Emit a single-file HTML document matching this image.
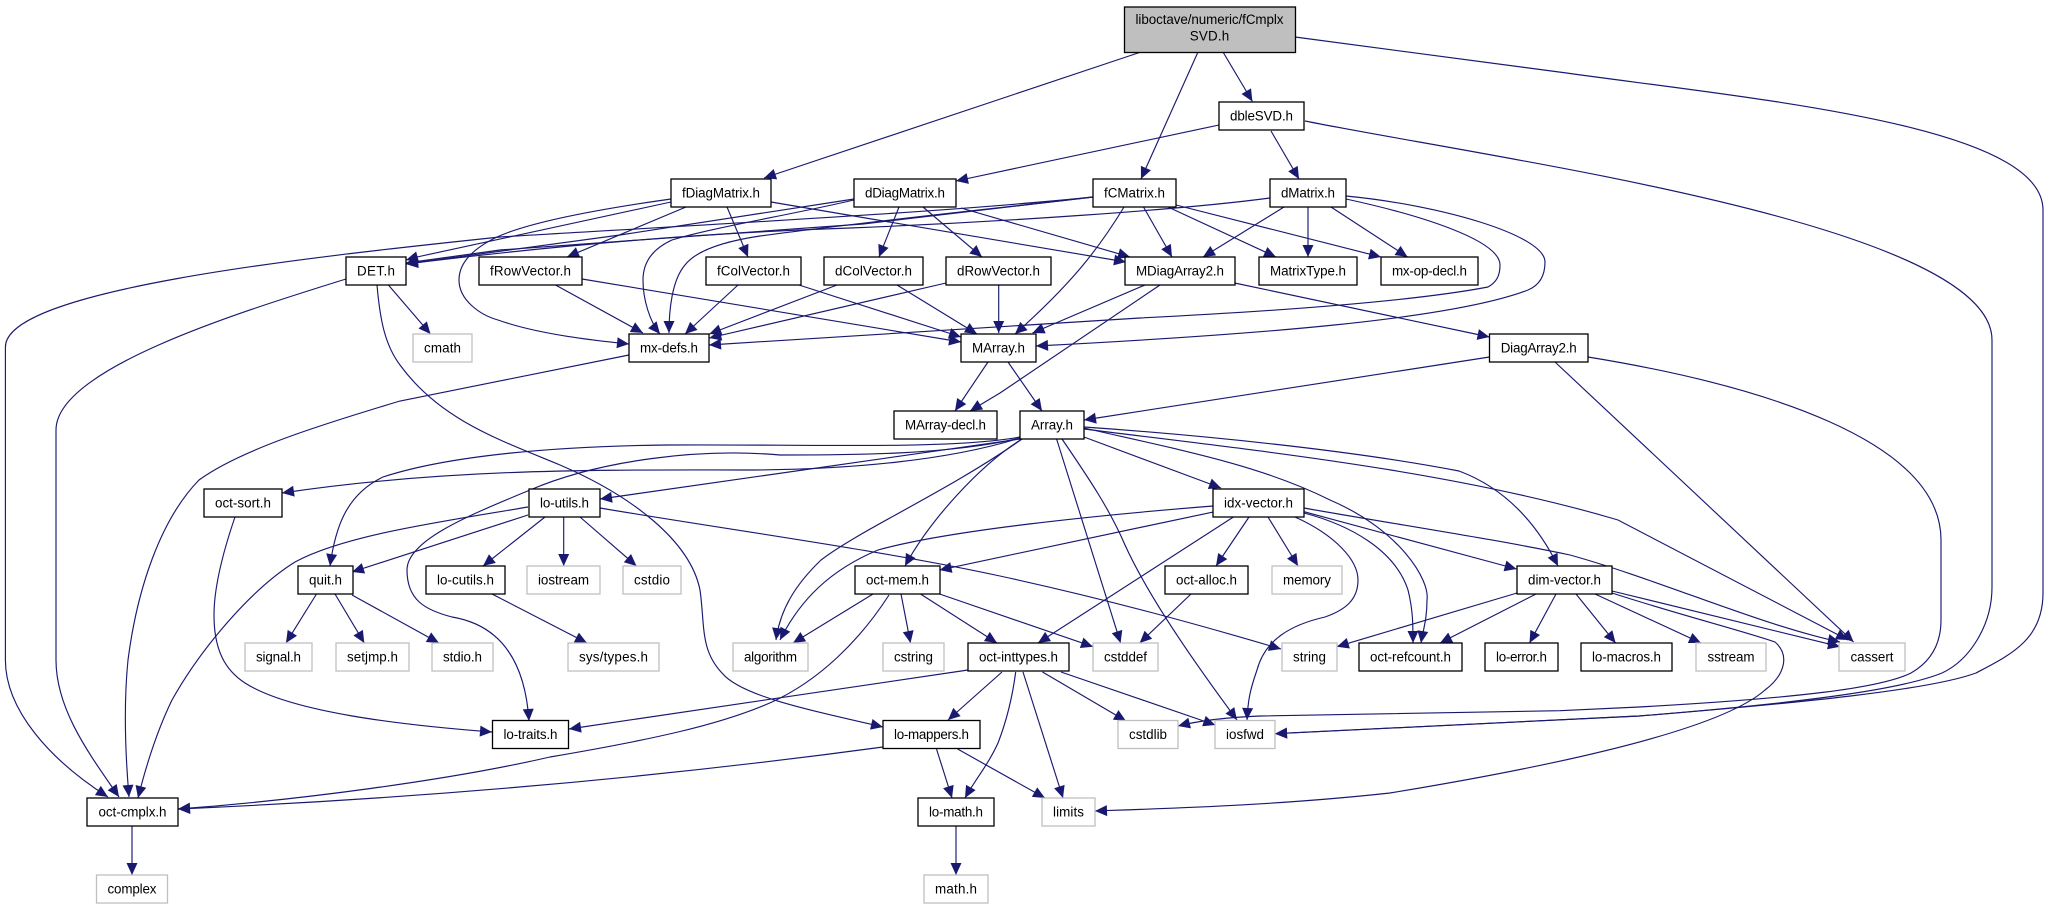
<!DOCTYPE html>
<html><head><meta charset="utf-8"><title>fCmplxSVD.h include graph</title>
<style>
html,body{margin:0;padding:0;background:#fff;width:2048px;height:909px;overflow:hidden}
svg{display:block}
text{font-family:"Liberation Sans",sans-serif;font-size:13.4px;fill:#000;text-anchor:middle}
rect{fill:#fff;stroke:#000;stroke-width:1.3}
rect.g{stroke:#bfbfbf}
rect.r{fill:#bfbfbf}
#e path{fill:none;stroke:#191970;stroke-width:1.15}
</style></head><body>
<svg xmlns="http://www.w3.org/2000/svg" width="2048" height="909" viewBox="0 0 2048 909">
<defs><marker id="a" markerUnits="userSpaceOnUse" markerWidth="14" markerHeight="13" refX="12" refY="5.5" orient="auto" overflow="visible"><polygon points="0,0 12,5.5 0,11" fill="#191970"/></marker></defs>
<g id="e" marker-end="url(#a)">
<!-- root -->
<path d="M1141,52L764,178"/>
<path d="M1198,52L1141,179"/>
<path d="M1223,52L1252.4,101.5"/>
<path d="M1295,37L1559,72C1760,100 2043,125 2043,210L2043,593C2043,640 2010,655 1976,673C1930,690 1800,703 1639,716L1275,733.7"/>
<!-- dbleSVD -->
<path d="M1219,125L956,181"/>
<path d="M1271,131L1299,179"/>
<path d="M1305,121C1500,160 1992,225 1992,340L1992,587C1992,625 1970,660 1942,673C1900,690 1800,703 1639,716L1275,733.7"/>
<!-- fDiagMatrix -->
<path d="M671,199C600,209 530,222 497,237C470,250 459,265 459,280C459,300 480,315 498,320C540,335 600,341 629,344"/>
<path d="M671,202L417,257L406,260"/>
<path d="M686,207L567,257"/>
<path d="M727,207L748,257"/>
<path d="M771,202L1126,262"/>
<!-- dDiagMatrix -->
<path d="M854,199L620,235L406,264"/>
<path d="M854,200C790,215 710,228 672,240C650,250 643,265 643,280C643,300 650,322 660,334"/>
<path d="M899,207L879,257"/>
<path d="M923,207L982,257"/>
<path d="M961,208L1130,257"/>
<!-- fCMatrix -->
<path d="M1093,197C950,212 700,225 500,237C300,258 5.4,290 5.4,347L5.4,660C5.4,710 50,760 108,797"/>
<path d="M1093,197L863,224L500,250L406,263"/>
<path d="M1093,197C1020,206 880,220 760,236C720,242 695,252 685,265C672,280 669,310 669,333"/>
<path d="M1124,207C1098,250 1070,285 1015,334"/>
<path d="M1143.5,207L1172,257"/>
<path d="M1168,207L1276,257"/>
<path d="M1176,205L1381,257"/>
<!-- dMatrix -->
<path d="M1270,198C1180,210 1000,222 850,228C700,233 560,245 406,264"/>
<path d="M1284,207L1203,257"/>
<path d="M1308,207L1308,257"/>
<path d="M1331,207L1407.6,257"/>
<path d="M1346,199C1420,215 1500,240 1500,265C1500,275 1497,282 1488,287C1420,300 1300,310 1140,318C1000,328 850,335 709,345"/>
<path d="M1346,196C1440,205 1545,235 1545,262C1545,275 1540,285 1528,290C1450,320 1250,335 1036,346"/>
<!-- DET -->
<path d="M346,279C230,315 56,370 56,430L56,660C56,710 90,755 119,797"/>
<path d="M388.4,285L430.5,334"/>
<path d="M377,285C380,320 385,345 400,365C440,420 500,440 560,465C630,495 690,540 700,590C705,625 700,650 722,673C740,695 800,708 883,727"/>
<!-- vectors -->
<path d="M555.5,285L643,333"/>
<path d="M582,279L961,342"/>
<path d="M738,285L685,334"/>
<path d="M799,285L961,337"/>
<path d="M837,285L709.3,334"/>
<path d="M897,285L977,334"/>
<path d="M946,283L709.3,338"/>
<path d="M998.7,285L998.7,333"/>
<!-- MDiagArray2 / DiagArray2 -->
<path d="M1145,285L1032.5,333"/>
<path d="M1160,285L1000,393L970,411"/>
<path d="M1234.6,283L1489.5,337"/>
<path d="M1489.5,357L1084,420"/>
<path d="M1555,362L1853.6,642"/>
<path d="M1588,357C1760,385 1941,440 1941,540L1941,620C1941,650 1925,665 1911,673C1880,688 1800,698 1639,707L1560,710.7L1260,716Q1210,718 1178,726"/>
<!-- mx-defs -->
<path d="M629,355L400,401C320,425 240,450 199,480C160,520 137,590 128,660C124,700 125,750 129,797"/>
<!-- MArray -->
<path d="M988,362L955,411"/>
<path d="M1008,362L1042,411"/>
<!-- Array -->
<path d="M1020,437C950,450 800,444 668,445C560,446 450,455 383,477C345,495 335,530 330,566"/>
<path d="M1020,438C950,460 850,470 744,470C600,470 450,468 282,493"/>
<path d="M1020,438C950,455 850,455 780,455C700,448 600,460 530,490C470,515 407,540 407,570C407,600 425,610 452,617C500,625 525,660 529,721"/>
<path d="M1020,439L600,499"/>
<path d="M1022,439C950,490 860,530 821,560C795,585 780,610 776,640"/>
<path d="M1022,439C980,465 930,520 905,566"/>
<path d="M1056.6,439L1120.6,643"/>
<path d="M1062,439C1090,480 1110,510 1125,545C1150,600 1200,670 1237,720"/>
<path d="M1084,437L1221,488"/>
<path d="M1084,428C1180,450 1260,465 1330,500C1400,530 1430,580 1427,600C1427,620 1423,630 1421,643"/>
<path d="M1084,427C1200,435 1350,450 1459,471C1510,490 1540,530 1558,566"/>
<path d="M1084,429C1250,450 1450,470 1618,520L1848,640"/>
<!-- idx-vector -->
<path d="M1213,506C1100,515 950,530 878,550C830,570 800,600 780,640"/>
<path d="M1213,512L939.6,570"/>
<path d="M1233.4,517L1038,643"/>
<path d="M1249,517L1216,566"/>
<path d="M1268,517L1298,566"/>
<path d="M1295,517C1335,535 1358,560 1358,580C1358,600 1345,610 1325,617C1290,625 1265,640 1257,670C1250,690 1248,700 1247,720"/>
<path d="M1304,513C1350,525 1395,550 1408,590C1413,610 1413,625 1413,643"/>
<path d="M1304,511.7L1516.6,569"/>
<path d="M1304,508C1400,525 1500,540 1570,555C1660,580 1760,625 1840,642"/>
<!-- lo-utils -->
<path d="M528,507C440,522 345,535 295,562C250,590 200,650 172,700C155,735 145,770 138,798"/>
<path d="M528,515L352,572"/>
<path d="M545,517L483,566"/>
<path d="M563.7,517L563.7,566"/>
<path d="M580,517L636.5,566"/>
<path d="M600,508C730,530 880,550 1000,576C1110,600 1200,625 1281,649"/>
<!-- oct-sort -->
<path d="M235,517C222,555 214,590 214,615C214,650 225,670 245,683C290,712 400,725 492,732"/>
<!-- quit / cutils / alloc -->
<path d="M316.5,594L286,643"/>
<path d="M335,594L364.3,643"/>
<path d="M352,595L439,643"/>
<path d="M492,594L587,643"/>
<path d="M1191,594L1139.7,643"/>
<!-- oct-mem -->
<path d="M873,594L793,643"/>
<path d="M901,594L910.5,643"/>
<path d="M920.5,594L997,643"/>
<path d="M939.6,594L1093,646.7"/>
<path d="M889,595C860,640 820,680 772,702C720,725 650,740 550,757C450,780 300,800 178,809"/>
<!-- dim-vector -->
<path d="M1517,593L1336.8,646.7"/>
<path d="M1536,594L1440,643"/>
<path d="M1556,594L1529.5,643"/>
<path d="M1576,594L1615.6,643"/>
<path d="M1595,594L1701,643"/>
<path d="M1612,591L1840,646.7"/>
<path d="M1612,593C1680,615 1740,630 1775,642C1790,655 1785,675 1765,690C1720,730 1560,765 1390,793C1280,805 1180,808 1095,811"/>
<!-- oct-inttypes -->
<path d="M968,670L569,729"/>
<path d="M1002,672L948,720"/>
<path d="M1015.7,672C1012,700 1005,725 998,743C988,765 975,780 965,798"/>
<path d="M1023,672L1063,798"/>
<path d="M1042.5,672L1126,721"/>
<path d="M1061,672L1215.3,725"/>
<!-- lo-mappers -->
<path d="M936.5,749L952,798"/>
<path d="M957.6,749L1045,798"/>
<path d="M883,747C750,765 500,795 178,809"/>
<!-- bottom -->
<path d="M956,826L956,875"/>
<path d="M132,826L132,875"/>
</g>
<g>
<rect class="r" x="1124.5" y="7" width="171" height="45.5"/>
<text x="1209.5" y="24" textLength="148">liboctave/numeric/fCmplx</text>
<text x="1209.5" y="40.5" textLength="39.5">SVD.h</text>

<rect x="1219" y="102" width="85" height="28"/><text x="1261.5" y="120.5" textLength="63">dbleSVD.h</text>

<rect x="671" y="179" width="100" height="28"/><text x="721" y="197.5" textLength="78">fDiagMatrix.h</text>
<rect x="854" y="179" width="102" height="28"/><text x="905" y="197.5" textLength="80">dDiagMatrix.h</text>
<rect x="1093" y="179" width="83" height="28"/><text x="1134.5" y="197.5" textLength="61">fCMatrix.h</text>
<rect x="1270" y="179" width="76" height="28"/><text x="1308" y="197.5" textLength="54">dMatrix.h</text>

<rect x="346" y="257" width="60" height="28"/><text x="376" y="275.5" textLength="38">DET.h</text>
<rect x="479" y="257" width="103" height="28"/><text x="530.5" y="275.5" textLength="81">fRowVector.h</text>
<rect x="706" y="257" width="95" height="28"/><text x="753.5" y="275.5" textLength="73">fColVector.h</text>
<rect x="824" y="257" width="99" height="28"/><text x="873.5" y="275.5" textLength="77">dColVector.h</text>
<rect x="946" y="257" width="105" height="28"/><text x="998.5" y="275.5" textLength="83">dRowVector.h</text>
<rect x="1125" y="257" width="110" height="28"/><text x="1180" y="275.5" textLength="88">MDiagArray2.h</text>
<rect x="1259" y="257" width="98" height="28"/><text x="1308" y="275.5" textLength="76">MatrixType.h</text>
<rect x="1381" y="257" width="97" height="28"/><text x="1429.5" y="275.5" textLength="75">mx-op-decl.h</text>

<rect class="g" x="413" y="334" width="59" height="28"/><text x="442.5" y="352.5" textLength="37">cmath</text>
<rect x="629" y="334" width="80" height="28"/><text x="669" y="352.5" textLength="58">mx-defs.h</text>
<rect x="961" y="334" width="75" height="28"/><text x="998.5" y="352.5" textLength="53">MArray.h</text>
<rect x="1489.5" y="334" width="98.5" height="28"/><text x="1538.7" y="352.5" textLength="76">DiagArray2.h</text>

<rect x="894" y="411" width="103" height="28"/><text x="945.5" y="429.5" textLength="81">MArray-decl.h</text>
<rect x="1020" y="411" width="64" height="28"/><text x="1052" y="429.5" textLength="42">Array.h</text>

<rect x="204" y="489" width="78" height="28"/><text x="243" y="507.5" textLength="56">oct-sort.h</text>
<rect x="529" y="489" width="71" height="28"/><text x="564.5" y="507.5" textLength="49">lo-utils.h</text>
<rect x="1213" y="489" width="91" height="28"/><text x="1258.5" y="507.5" textLength="69">idx-vector.h</text>

<rect x="298" y="566" width="55" height="28"/><text x="325.5" y="584.5" textLength="33">quit.h</text>
<rect x="426" y="566" width="79" height="28"/><text x="465.5" y="584.5" textLength="57">lo-cutils.h</text>
<rect class="g" x="527" y="566" width="73" height="28"/><text x="563.5" y="584.5" textLength="51">iostream</text>
<rect class="g" x="623" y="566" width="58" height="28"/><text x="652" y="584.5" textLength="36">cstdio</text>
<rect x="855" y="566" width="85" height="28"/><text x="897.5" y="584.5" textLength="63">oct-mem.h</text>
<rect x="1165" y="566" width="83" height="28"/><text x="1206.5" y="584.5" textLength="61">oct-alloc.h</text>
<rect class="g" x="1272" y="566" width="70" height="28"/><text x="1307" y="584.5" textLength="48">memory</text>
<rect x="1517" y="566" width="95" height="28"/><text x="1564.5" y="584.5" textLength="73">dim-vector.h</text>

<rect class="g" x="245" y="643" width="67" height="28"/><text x="278.5" y="661.5" textLength="45">signal.h</text>
<rect class="g" x="336" y="643" width="73" height="28"/><text x="372.5" y="661.5" textLength="51">setjmp.h</text>
<rect class="g" x="432" y="643" width="61" height="28"/><text x="462.5" y="661.5" textLength="39">stdio.h</text>
<rect class="g" x="568" y="643" width="91" height="28"/><text x="613.5" y="661.5" textLength="69">sys/types.h</text>
<rect class="g" x="733" y="643" width="75" height="28"/><text x="770.5" y="661.5" textLength="53">algorithm</text>
<rect class="g" x="883" y="643" width="61" height="28"/><text x="913.5" y="661.5" textLength="39">cstring</text>
<rect x="968" y="643" width="101" height="28"/><text x="1018.5" y="661.5" textLength="79">oct-inttypes.h</text>
<rect class="g" x="1093" y="643" width="65" height="28"/><text x="1125.5" y="661.5" textLength="43">cstddef</text>
<rect class="g" x="1282" y="643" width="55" height="28"/><text x="1309.5" y="661.5" textLength="33">string</text>
<rect x="1359" y="643" width="103" height="28"/><text x="1410.5" y="661.5" textLength="81">oct-refcount.h</text>
<rect x="1485" y="643" width="73" height="28"/><text x="1521.5" y="661.5" textLength="51">lo-error.h</text>
<rect x="1581" y="643" width="91" height="28"/><text x="1626.5" y="661.5" textLength="69">lo-macros.h</text>
<rect class="g" x="1696" y="643" width="70" height="28"/><text x="1731" y="661.5" textLength="47">sstream</text>
<rect class="g" x="1839" y="643" width="66" height="28"/><text x="1872" y="661.5" textLength="43">cassert</text>

<rect x="492.5" y="720.5" width="76" height="28"/><text x="530.5" y="739" textLength="54">lo-traits.h</text>
<rect x="883" y="720.5" width="97" height="28"/><text x="931.5" y="739" textLength="75">lo-mappers.h</text>
<rect class="g" x="1118" y="720.5" width="60" height="28"/><text x="1148" y="739" textLength="38">cstdlib</text>
<rect class="g" x="1215" y="720.5" width="60" height="28"/><text x="1245" y="739" textLength="38">iosfwd</text>

<rect x="87" y="798" width="91" height="28"/><text x="132.5" y="816.5" textLength="68">oct-cmplx.h</text>
<rect x="918" y="798" width="76" height="28"/><text x="956" y="816.5" textLength="54">lo-math.h</text>
<rect class="g" x="1042" y="798" width="53" height="28"/><text x="1068.5" y="816.5" textLength="31">limits</text>

<rect class="g" x="96.5" y="875" width="71" height="28"/><text x="132" y="893.5" textLength="49">complex</text>
<rect class="g" x="924" y="875" width="64" height="28"/><text x="956" y="893.5" textLength="42">math.h</text>
</g>
</svg>
</body></html>
